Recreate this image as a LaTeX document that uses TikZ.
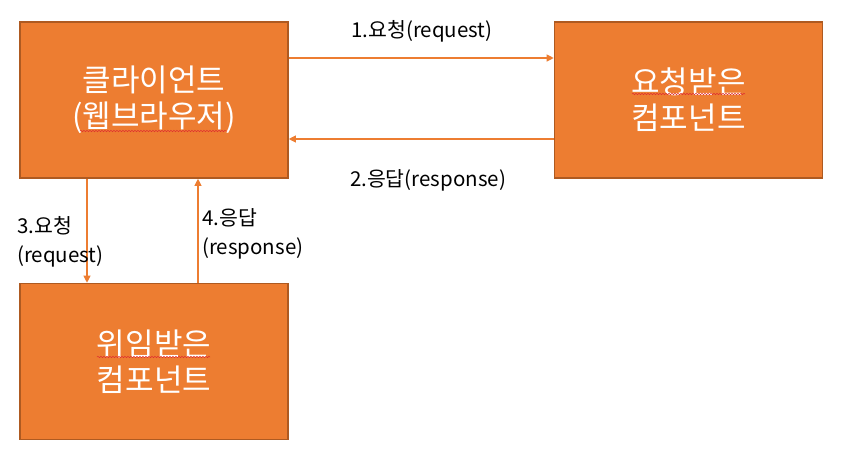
\documentclass[tikz,border=0pt]{standalone}
\usepackage{fontspec}
\setmainfont{Noto Sans CJK KR}
\usetikzlibrary{arrows.meta,decorations.pathmorphing}
\definecolor{boxfill}{HTML}{ED7D31}
\definecolor{boxline}{HTML}{AE5A21}
\definecolor{squig}{HTML}{E03030}
\tikzset{
  compbox/.style={rectangle, draw=boxline, line width=1.6pt, fill=boxfill,
    minimum width=268pt, minimum height=156pt, inner sep=0pt,
    text=white, align=center, font=\fontsize{31}{36}\selectfont},
  arr/.style={draw=boxfill, line width=1.1pt, -{Triangle[length=7pt,width=7pt]}},
  lbl/.style={inner sep=0pt, font=\fontsize{20.5}{29}\selectfont, text=black},
  squiggle/.style={draw=squig, line width=0.5pt, decorate,
    decoration={snake, amplitude=0.7pt, segment length=3pt}}
}
\begin{document}
\begin{tikzpicture}[x=1pt,y=-1pt]
\useasboundingbox[fill=white] (0,0) rectangle (849,458);
\node[compbox] (client) at (154,100) {클라이언트\\(웹브라우저)};
\node[compbox] (req) at (688.5,100) {요청받은\\컴포넌트};
\node[compbox] (del) at (154,361.5) {위임받은\\컴포넌트};
% squiggly underlines
\coordinate (s1a) at (80,131); \coordinate (s1b) at (227,131);
\coordinate (s2a) at (632,94); \coordinate (s2b) at (745,94);
\coordinate (s3a) at (97,357); \coordinate (s3b) at (210,357);
\draw[squiggle] (s1a) -- (s1b);
\draw[squiggle] (s2a) -- (s2b);
\draw[squiggle] (s3a) -- (s3b);
% connectors
\draw[arr] ([yshift=42pt]client.east) -- ([yshift=42pt]req.west);
\draw[arr] ([yshift=-39pt]req.west) -- ([yshift=-39pt]client.west -| client.east);
\draw[arr] ([xshift=-67pt]client.south) -- ([xshift=-67pt]del.north);
\draw[arr] ([xshift=44pt]del.north) -- ([xshift=44pt]client.south);
% labels
\node[lbl] (l1) at (422,31) {1.요청(request)};
\node[lbl] (l2) at (428,180) {2.응답(response)};
\node[lbl, anchor=west, align=left] (l3) at (17,242) {3.요청\\(request)};
\node[lbl, anchor=west, align=left] (l4) at (202,234) {4.응답\\(response)};
\end{tikzpicture}
\end{document}
